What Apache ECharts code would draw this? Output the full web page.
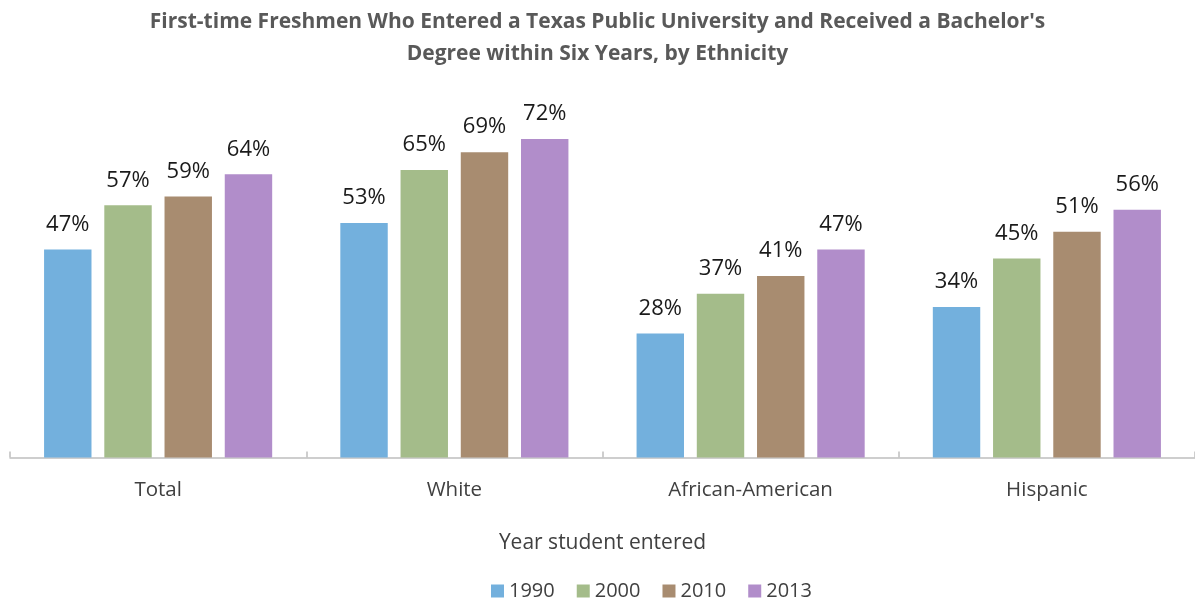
<!DOCTYPE html>
<html><head><meta charset="utf-8">
<script src="https://cdn.jsdelivr.net/npm/echarts@6/dist/echarts.min.js"></script>
<style>html,body{margin:0;padding:0;background:#fff}#c{width:1195px;height:601px}</style>
</head><body><div id="c"></div>
<script>
const categories = ['Total', 'White', 'African-American', 'Hispanic'];
const years = ['1990', '2000', '2010', '2013'];
const v1990 = [47, 53, 28, 34];
const v2000 = [57, 65, 37, 45];
const v2010 = [59, 69, 41, 51];
const v2013 = [64, 72, 47, 56];
const colors = ['#73B0DD', '#A4BC8A', '#A88C70', '#B18DCA'];
const seriesValues = [v1990, v2000, v2010, v2013];
const FONT = '"Open Sans", sans-serif';

const chart = echarts.init(document.getElementById('c'));
chart.setOption({
  animation: false,
  textStyle: { fontFamily: FONT },
  title: {
    text: "First-time Freshmen Who Entered a Texas Public University and Received a Bachelor's\nDegree within Six Years, by Ethnicity",
    left: 'center', top: 1,
    textStyle: { fontSize: 21, fontWeight: 'bold', color: '#595959', lineHeight: 32, fontFamily: FONT }
  },
  legend: {
    data: years, left: 486, top: 576,
    itemWidth: 13, itemHeight: 13, itemGap: 22, icon: 'rect',
    textStyle: { fontSize: 20, color: '#404040', fontFamily: FONT }
  },
  grid: { left: 10, right: 0, top: 103.5, height: 354, containLabel: false },
  xAxis: {
    type: 'category', data: categories,
    axisLine: { lineStyle: { color: '#BFBFBF', width: 1.5 } },
    axisTick: { show: true, inside: true, length: 6, lineStyle: { color: '#BFBFBF', width: 1.5 } },
    axisLabel: { fontSize: 20.5, color: '#404040', margin: 22, fontFamily: FONT },
    name: 'Year student entered', nameLocation: 'middle', nameGap: 75,
    nameTextStyle: { fontSize: 21, color: '#404040', fontFamily: FONT }
  },
  yAxis: { type: 'value', min: 0, max: 80, show: false, splitLine: { show: false } },
  series: years.map((y, i) => ({
    name: y, type: 'bar', data: seriesValues[i],
    barGap: '27%', barCategoryGap: '23%',
    itemStyle: { color: colors[i] },
    label: { show: true, position: 'top', distance: 14, formatter: p => p.value + '%',
      fontSize: 22, color: '#1a1a1a', fontFamily: FONT }
  }))
});
</script></body></html>
